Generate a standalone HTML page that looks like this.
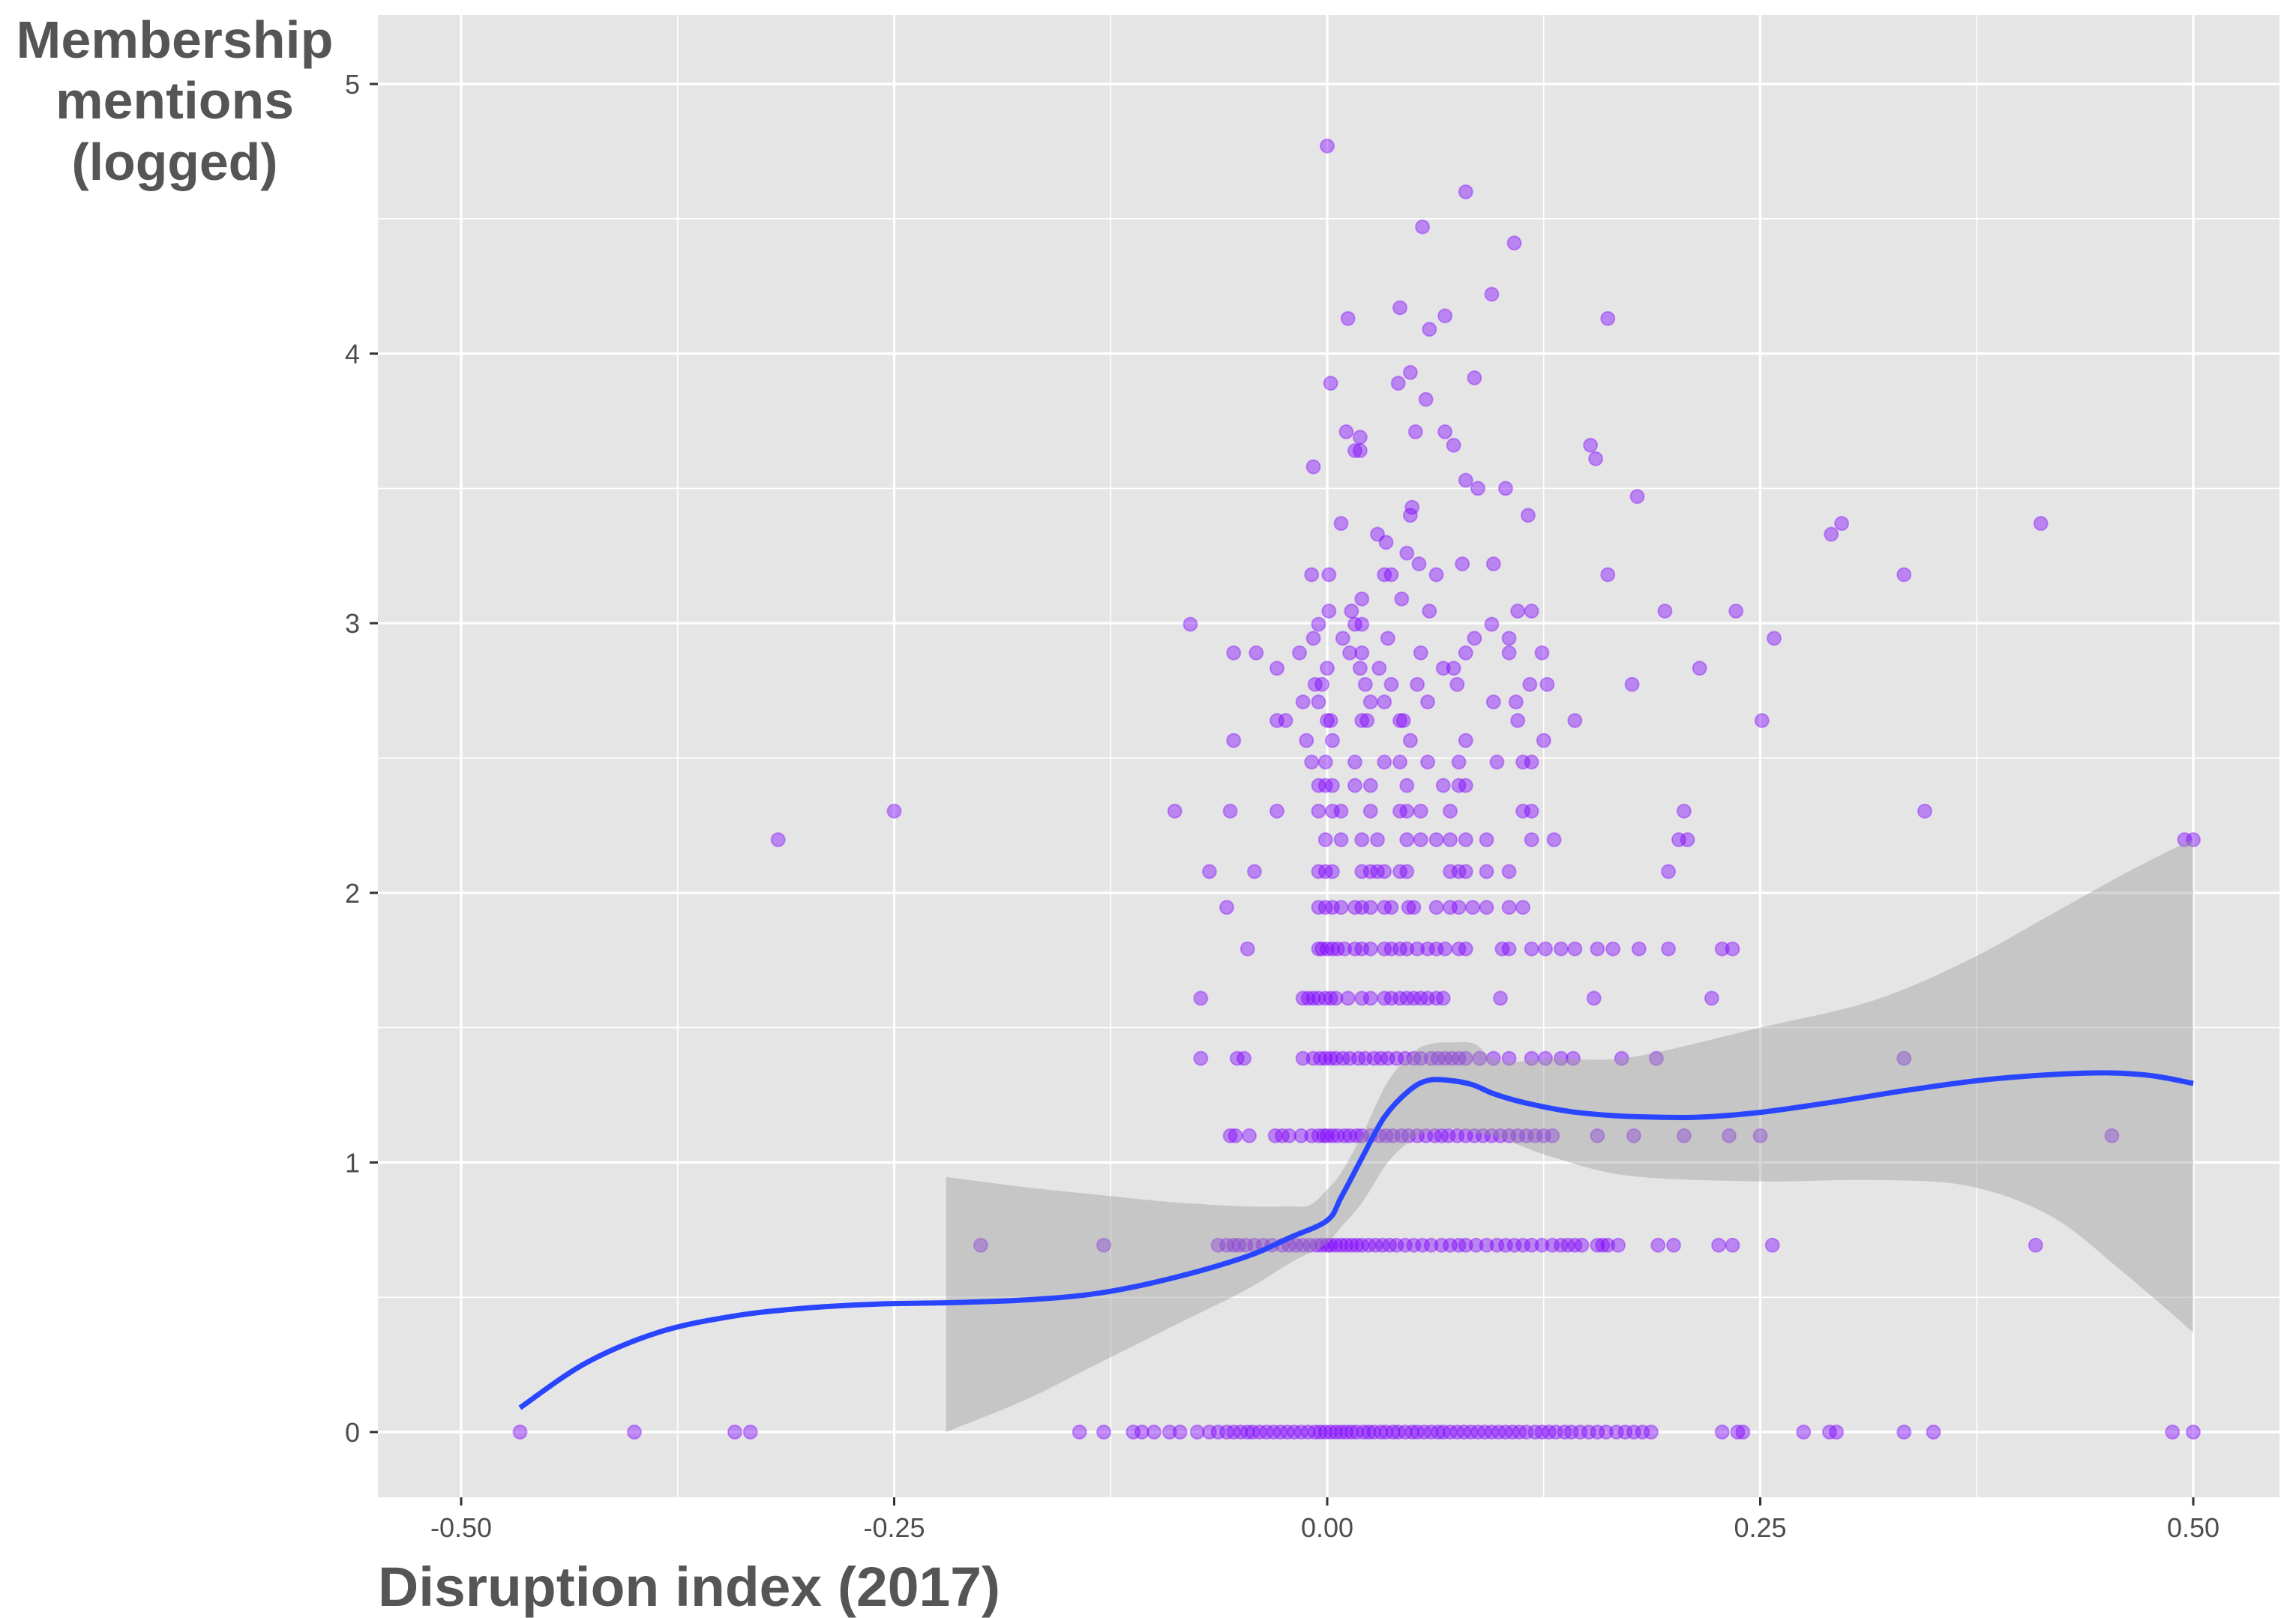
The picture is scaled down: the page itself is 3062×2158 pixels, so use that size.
<!DOCTYPE html>
<html><head><meta charset="utf-8">
<style>
html,body{margin:0;padding:0;background:#fff;}
svg{display:block;}
text{font-family:"Liberation Sans",sans-serif;}
</style></head>
<body>
<svg id="chart" width="3062" height="2158" viewBox="0 0 3062 2158" xmlns="http://www.w3.org/2000/svg">
  <rect x="504" y="20" width="2536" height="1977" fill="#e5e5e5"/>
  <g id="grid"></g>
  <g id="points"></g>
  <g id="smooth"></g>
  <g id="axes"></g>
  <text x="233" y="77" text-anchor="middle" font-size="70" font-weight="bold" fill="#555" textLength="423" lengthAdjust="spacingAndGlyphs">Membership</text>
  <text x="233" y="158" text-anchor="middle" font-size="70" font-weight="bold" fill="#555" textLength="318" lengthAdjust="spacingAndGlyphs">mentions</text>
  <text x="233" y="240" text-anchor="middle" font-size="70" font-weight="bold" fill="#555" textLength="275" lengthAdjust="spacingAndGlyphs">(logged)</text>
  <text x="504" y="2142" font-size="74" font-weight="bold" fill="#555" textLength="830" lengthAdjust="spacingAndGlyphs">Disruption index (2017)</text>
</svg>
<script>
const xTicks = [-0.5, -0.25, 0, 0.25, 0.5];
const xTickLabels = ["-0.50", "-0.25", "0.00", "0.25", "0.50"];
const yTicks = [0, 1, 2, 3, 4, 5];
const yTickLabels = ["0", "1", "2", "3", "4", "5"];

const row0 = [-0.466,-0.40,-0.342,-0.333,-0.143,-0.129,-0.112,-0.107,-0.1,-0.091,-0.085,-0.075,-0.068,-0.063,-0.058,-0.054,-0.05,-0.046,-0.043,-0.039,-0.035,-0.031,-0.027,-0.023,-0.019,-0.015,-0.011,-0.007,-0.004,-0.001,0.002,0.005,0.008,0.011,0.014,0.017,0.021,0.024,0.027,0.031,0.034,0.038,0.041,0.045,0.049,0.052,0.056,0.06,0.064,0.067,0.071,0.075,0.079,0.083,0.087,0.091,0.095,0.099,0.103,0.107,0.111,0.115,0.12,0.124,0.128,0.132,0.137,0.141,0.146,0.151,0.156,0.161,0.167,0.172,0.177,0.182,0.187,0.228,0.237,0.24,0.275,0.29,0.294,0.333,0.35,0.488,0.5];
const row069 = [-0.20,-0.129,-0.063,-0.058,-0.054,-0.051,-0.047,-0.042,-0.037,-0.032,-0.026,-0.022,-0.018,-0.014,-0.01,-0.006,-0.003,0,0.002,0.005,0.008,0.011,0.014,0.017,0.02,0.024,0.028,0.032,0.036,0.04,0.045,0.05,0.055,0.06,0.066,0.071,0.076,0.08,0.086,0.092,0.098,0.103,0.108,0.113,0.118,0.124,0.13,0.135,0.139,0.143,0.147,0.156,0.159,0.162,0.168,0.191,0.2,0.226,0.234,0.257,0.409];
const row110 = [-0.056,-0.053,-0.045,-0.03,-0.026,-0.022,-0.015,-0.009,-0.005,-0.002,0,0.003,0.006,0.01,0.013,0.017,0.02,0.025,0.03,0.034,0.038,0.043,0.047,0.052,0.057,0.062,0.066,0.07,0.075,0.08,0.085,0.09,0.095,0.1,0.105,0.11,0.115,0.12,0.125,0.13,0.156,0.177,0.206,0.232,0.25,0.453];
const row139 = [-0.073,-0.052,-0.048,-0.014,-0.008,-0.004,-0.001,0.002,0.005,0.009,0.013,0.018,0.022,0.027,0.031,0.035,0.04,0.045,0.05,0.054,0.06,0.064,0.068,0.072,0.076,0.08,0.088,0.096,0.105,0.118,0.126,0.135,0.142,0.17,0.19,0.333];
const row161 = [-0.073,-0.014,-0.011,-0.008,-0.005,-0.001,0.002,0.005,0.012,0.02,0.025,0.033,0.037,0.042,0.046,0.05,0.054,0.058,0.063,0.067,0.1,0.154,0.222];
const row179 = [-0.046,-0.005,-0.003,0,0.003,0.006,0.01,0.016,0.02,0.025,0.033,0.037,0.042,0.046,0.052,0.058,0.063,0.068,0.076,0.08,0.101,0.105,0.118,0.126,0.135,0.143,0.156,0.165,0.18,0.197,0.228,0.234];
const row195 = [-0.058,-0.005,-0.001,0.003,0.008,0.016,0.02,0.025,0.033,0.037,0.047,0.05,0.063,0.071,0.076,0.084,0.092,0.105,0.113];
const row208 = [-0.068,-0.042,-0.005,-0.001,0.003,0.02,0.025,0.029,0.033,0.042,0.046,0.071,0.076,0.08,0.092,0.105,0.197];
const row220 = [-0.317,-0.001,0.008,0.02,0.029,0.046,0.054,0.063,0.071,0.08,0.092,0.118,0.131,0.203,0.208,0.495,0.5];
const row230 = [-0.25,-0.088,-0.056,-0.029,-0.005,0.003,0.008,0.025,0.042,0.046,0.054,0.071,0.113,0.118,0.206,0.345];
const row240 = [-0.005,-0.001,0.003,0.016,0.025,0.046,0.067,0.076,0.08];
const row248 = [-0.009,-0.001,0.016,0.033,0.042,0.058,0.076,0.098,0.113,0.118];
const row256 = [-0.054,-0.012,0.003,0.048,0.08,0.125];
const row264 = [-0.029,-0.024,0,0.002,0.02,0.023,0.042,0.044,0.11,0.143,0.251];
const row271 = [-0.014,-0.005,0.025,0.033,0.058,0.096,0.109];
const row277 = [-0.007,-0.003,0.022,0.037,0.052,0.075,0.117,0.127,0.176];
const row283 = [-0.029,0,0.019,0.03,0.067,0.073,0.215];
const row289 = [-0.054,-0.041,-0.016,0.013,0.02,0.054,0.08,0.105,0.124];
const row294 = [-0.008,0.009,0.035,0.085,0.105,0.258];
const row300 = [-0.079,-0.005,0.016,0.02,0.095];
const row304 = [0.001,0.014,0.059,0.11,0.118,0.195,0.236];
const upperX = [0.02,0.043,-0.009,0.001,0.033,0.037,0.063,0.162,0.333,0.053,0.078,0.096,0.046,0.034,0.029,0.291,0.008,0.297,0.412,0.048,0.116,0.049,0.179,0.087,0.103,0.08,-0.008,0.155,0.016,0.019,0.073,0.152,0.019,0.011,0.051,0.068,0.057,0.041,0.002,0.085,0.048,0.059,0.012,0.162,0.068,0.042,0.095,0.108,0.055,0.08,0];
const upperY = [3.09,3.09,3.18,3.18,3.18,3.18,3.18,3.18,3.18,3.22,3.22,3.22,3.26,3.30,3.33,3.33,3.37,3.37,3.37,3.40,3.40,3.43,3.47,3.50,3.50,3.53,3.58,3.61,3.64,3.64,3.66,3.66,3.69,3.71,3.71,3.71,3.83,3.89,3.89,3.91,3.93,4.09,4.13,4.13,4.14,4.17,4.22,4.41,4.47,4.60,4.77];

const rowXs = [row0,row069,row110,row139,row161,row179,row195,row208,row220,row230,row240,row248,row256,row264,row271,row277,row283,row289,row294,row300,row304];
const rowY = [0,0.693,1.099,1.386,1.609,1.792,1.946,2.079,2.197,2.303,2.398,2.485,2.565,2.639,2.708,2.773,2.833,2.890,2.944,2.996,3.045];

const fitX = [-0.466,-0.428,-0.386,-0.343,-0.301,-0.259,-0.217,-0.174,-0.132,-0.09,-0.047,-0.022,0,0.008,0.02,0.033,0.047,0.058,0.071,0.084,0.096,0.113,0.139,0.164,0.19,0.215,0.249,0.291,0.333,0.376,0.418,0.452,0.477,0.5];
const fitY = [0.09,0.256,0.37,0.43,0.46,0.475,0.48,0.49,0.515,0.57,0.65,0.72,0.785,0.87,1.016,1.168,1.265,1.304,1.304,1.288,1.255,1.223,1.19,1.174,1.168,1.168,1.185,1.223,1.266,1.304,1.326,1.332,1.321,1.293];
const bandX = [-0.22,-0.174,-0.132,-0.09,-0.047,-0.022,-0.01,0,0.008,0.02,0.035,0.05,0.06,0.072,0.085,0.1,0.13,0.175,0.25,0.315,0.37,0.418,0.46,0.5];
const bandUpper = [0.946,0.908,0.88,0.853,0.837,0.837,0.842,0.9,0.962,1.1,1.3,1.41,1.44,1.445,1.44,1.375,1.385,1.39,1.5,1.6,1.75,1.92,2.07,2.2];
const bandLower = [0,0.12,0.255,0.39,0.527,0.625,0.665,0.7,0.76,0.85,1.0,1.09,1.115,1.125,1.11,1.09,1.02,0.95,0.93,0.935,0.913,0.8,0.59,0.37];

const NS = "http://www.w3.org/2000/svg";
const X0 = 504, X1 = 3040, Y0 = 20, Y1 = 1997;
function sx(v){ return 1770 + v * 2310; }
function sy(v){ return 1910 - v * 359.6; }
function mk(tag, attrs, parent){
  const e = document.createElementNS(NS, tag);
  for (const k in attrs) e.setAttribute(k, attrs[k]);
  parent.appendChild(e);
  return e;
}
function smoothPath(P, start){
  let d = (start ? 'M' : 'L') + P[0][0].toFixed(1) + ',' + P[0][1].toFixed(1);
  for (let i = 0; i < P.length - 1; i++){
    const p0 = P[Math.max(0, i - 1)], p1 = P[i], p2 = P[i + 1], p3 = P[Math.min(P.length - 1, i + 2)];
    const c1x = p1[0] + (p2[0] - p0[0]) / 6, c1y = p1[1] + (p2[1] - p0[1]) / 6;
    const c2x = p2[0] - (p3[0] - p1[0]) / 6, c2y = p2[1] - (p3[1] - p1[1]) / 6;
    d += 'C' + c1x.toFixed(1) + ',' + c1y.toFixed(1) + ' ' + c2x.toFixed(1) + ',' + c2y.toFixed(1) + ' ' + p2[0].toFixed(1) + ',' + p2[1].toFixed(1);
  }
  return d;
}
const grid = document.getElementById('grid');
const xMinor = [-0.375,-0.125,0.125,0.375];
const yMinor = [-0.5,0.5,1.5,2.5,3.5,4.5];
xMinor.forEach(v => {
  const l = mk('line', {x1:sx(v), x2:sx(v), y1:Y0, y2:Y1, stroke:'#fff', 'stroke-width':1.6}, grid);
  
  
});
yMinor.forEach(v => {
  if (sy(v) < Y0 || sy(v) > Y1) return;
  const l = mk('line', {x1:X0, x2:X1, y1:sy(v), y2:sy(v), stroke:'#fff', 'stroke-width':1.6}, grid);
  
  
});
xTicks.forEach(v => {
  const l = mk('line', {x1:sx(v), x2:sx(v), y1:Y0, y2:Y1, stroke:'#fff', 'stroke-width':3.2}, grid);
  
  
});
yTicks.forEach(v => {
  const l = mk('line', {x1:X0, x2:X1, y1:sy(v), y2:sy(v), stroke:'#fff', 'stroke-width':3.2}, grid);
  
  
});

const pts = document.getElementById('points');
function dot(x, y){
  const c = mk('circle', {cx:sx(x), cy:sy(y), r:9, fill:'#7f00ff', 'fill-opacity':0.42, stroke:'#7f00ff', 'stroke-opacity':0.35, 'stroke-width':2}, pts);
  
  
}
rowXs.forEach((arr, i) => arr.forEach(x => dot(x, rowY[i])));
upperX.forEach((x, i) => dot(x, upperY[i]));

const sm = document.getElementById('smooth');
const up = bandX.map((x, i) => [sx(x), sy(bandUpper[i])]);
const lo = bandX.map((x, i) => [sx(x), sy(bandLower[i])]).reverse();
const bd = smoothPath(up, true) + smoothPath(lo, false) + 'Z';
const band = mk('path', {d: bd, fill:'#999', 'fill-opacity':0.4}, sm);


const fp = fitX.map((x, i) => [sx(x), sy(fitY[i])]);
const line = mk('path', {d: smoothPath(fp, true), fill:'none', stroke:'#2a45ff', 'stroke-width':7, 'stroke-linejoin':'round'}, sm);



const ax = document.getElementById('axes');
xTicks.forEach((v, i) => {
  const t = mk('line', {x1:sx(v), x2:sx(v), y1:Y1, y2:Y1 + 11, stroke:'#333', 'stroke-width':3}, ax);
  
  
  const tx = mk('text', {x:sx(v), y:2050, 'text-anchor':'middle', 'font-size':36, fill:'#4d4d4d'}, ax);
  tx.textContent = xTickLabels[i];
  
  
});
yTicks.forEach((v, i) => {
  const t = mk('line', {x1:X0 - 11, x2:X0, y1:sy(v), y2:sy(v), stroke:'#333', 'stroke-width':3}, ax);
  
  
  const tx = mk('text', {x:480, y:sy(v) + 13, 'text-anchor':'end', 'font-size':36, fill:'#4d4d4d'}, ax);
  tx.textContent = yTickLabels[i];
  
  
});
</script>
</body></html>
